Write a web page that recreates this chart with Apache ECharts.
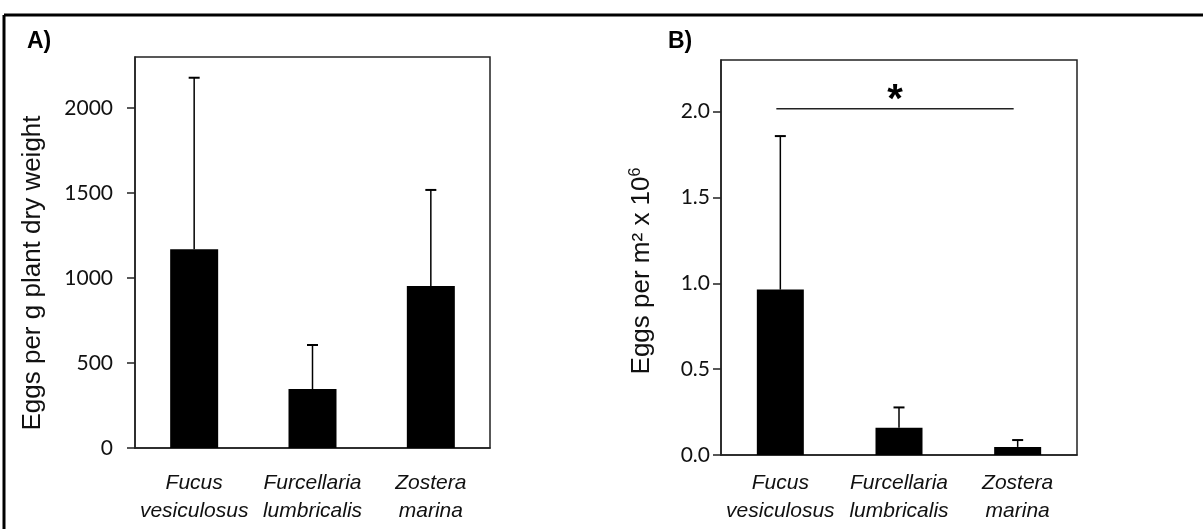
<!DOCTYPE html>
<html>
<head>
<meta charset="utf-8">
<script src="https://cdn.jsdelivr.net/npm/echarts@6/dist/echarts.min.js"></script>
<style>
html,body{margin:0;padding:0;background:#fff;}
#chart{width:1203px;height:529px;}
</style>
</head>
<body>
<div id="chart"></div>
<script>
// ---- data ----
const categories = ['Fucus\nvesiculosus', 'Furcellaria\nlumbricalis', 'Zostera\nmarina'];
const meanA = [1169, 347, 953];
const errA = [1009, 259, 565];
const meanB = [0.963, 0.159, 0.047];
const errB = [0.894, 0.118, 0.040];
const ticksA = [0, 500, 1000, 1500, 2000];
const ticksB = [0, 0.5, 1.0, 1.5, 2.0];
const sigB = [0, 2, 2.016];   // from category, to category, y value
const sigLabel = '*';
const titleA = 'Eggs per g plant dry weight';
const titleB = 'Eggs per m² x 10{sup|6}';

const chart = echarts.init(document.getElementById('chart'), null, {renderer: 'canvas'});

const tickFont = {fontFamily: 'Lato', fontSize: 21, color: '#111'};

function errorSeries(idx, means, errs) {
  return {
    type: 'custom', xAxisIndex: idx, yAxisIndex: idx, z: 1,
    data: means.map((m, i) => [i, m, m + errs[i]]),
    renderItem: function (params, api) {
      const base = api.coord([api.value(0), api.value(1)]);
      const top = api.coord([api.value(0), api.value(2)]);
      const hw = 5.5;
      return {
        type: 'group',
        children: [
          {type: 'line', shape: {x1: base[0], y1: base[1], x2: top[0], y2: top[1]}, style: {stroke: '#000', lineWidth: 1.5}},
          {type: 'line', shape: {x1: top[0] - hw, y1: top[1], x2: top[0] + hw, y2: top[1]}, style: {stroke: '#000', lineWidth: 2}}
        ]
      };
    }
  };
}

function yAxisDef(idx, max, ticks, fmt, labelMargin) {
  return {
    gridIndex: idx, type: 'value', min: 0, max: max,
    splitLine: {show: false},
    axisLine: {show: true, lineStyle: {color: '#222', width: 1.5}},
    axisTick: {show: true, inside: false, length: 8, customValues: ticks, lineStyle: {color: '#222', width: 1.5}},
    axisLabel: {customValues: ticks, formatter: fmt, margin: labelMargin, ...tickFont}
  };
}

function xAxisDef(idx, margin) {
  return {
    gridIndex: idx, type: 'category', data: categories,
    axisLine: {show: true, lineStyle: {color: '#222', width: 1.5}},
    axisTick: {show: false},
    axisLabel: {margin: margin, interval: 0, fontFamily: 'Liberation Sans', fontStyle: 'italic', fontSize: 21, color: '#111', lineHeight: 28}
  };
}

const option = {
  backgroundColor: '#fff',
  animation: false,
  graphic: [
    {type: 'line', shape: {x1: 4, y1: 15, x2: 1203, y2: 15}, style: {stroke: '#000', lineWidth: 3}},
    {type: 'line', shape: {x1: 4, y1: 15, x2: 4, y2: 529}, style: {stroke: '#000', lineWidth: 3}},
    {type: 'text', left: 27, top: 30, style: {text: 'A)', font: 'bold 23px "Liberation Sans"', fill: '#000'}},
    {type: 'text', left: 668, top: 30, style: {text: 'B)', font: 'bold 23px "Liberation Sans"', fill: '#000'}},
    {type: 'text', x: 33, y: 273, rotation: Math.PI / 2,
     style: {text: titleA, font: '26px "Liberation Sans"', fill: '#111', align: 'center', verticalAlign: 'middle'}},
    {type: 'text', x: 642, y: 271, rotation: Math.PI / 2,
     style: {text: titleB, font: '26px "Liberation Sans"', fontSize: 26, fontFamily: 'Liberation Sans', fill: '#111', align: 'center', verticalAlign: 'middle',
       rich: {sup: {fontFamily: 'Liberation Sans', fontSize: 16, verticalAlign: 'top', padding: [0, 0, 12, 0], fill: '#111'}}}}
  ],
  grid: [
    {left: 135, right: 713, top: 57, bottom: 81, show: true, borderColor: '#222', borderWidth: 1.5},
    {left: 721, right: 126, top: 60, bottom: 74, show: true, borderColor: '#222', borderWidth: 1.5}
  ],
  xAxis: [xAxisDef(0, 21), xAxisDef(1, 14)],
  yAxis: [
    yAxisDef(0, 2300, ticksA, v => String(v), 22),
    yAxisDef(1, 2.3, ticksB, v => v.toFixed(1), 11)
  ],
  series: [
    {type: 'bar', xAxisIndex: 0, yAxisIndex: 0, data: meanA, barWidth: 48, itemStyle: {color: '#000'}, z: 2},
    errorSeries(0, meanA, errA),
    {type: 'bar', xAxisIndex: 1, yAxisIndex: 1, data: meanB, barWidth: 47, itemStyle: {color: '#000'}, z: 2},
    errorSeries(1, meanB, errB),
    {
      type: 'custom', xAxisIndex: 1, yAxisIndex: 1, z: 3,
      data: [sigB],
      renderItem: function (params, api) {
        const p1 = api.coord([api.value(0), api.value(2)]);
        const p2 = api.coord([api.value(1), api.value(2)]);
        const x1 = p1[0] - 4, x2 = p2[0] - 4;
        return {
          type: 'group',
          children: [
            {type: 'line', shape: {x1: x1, y1: p1[1], x2: x2, y2: p2[1]}, style: {stroke: '#222', lineWidth: 1.5}},
            {type: 'text', x: (x1 + x2) / 2, y: p1[1] - 8, style: {text: sigLabel, font: 'bold 40px "Liberation Sans"', fill: '#000', align: 'center', verticalAlign: 'middle'}}
          ]
        };
      }
    }
  ]
};
chart.setOption(option);
</script>
</body>
</html>
